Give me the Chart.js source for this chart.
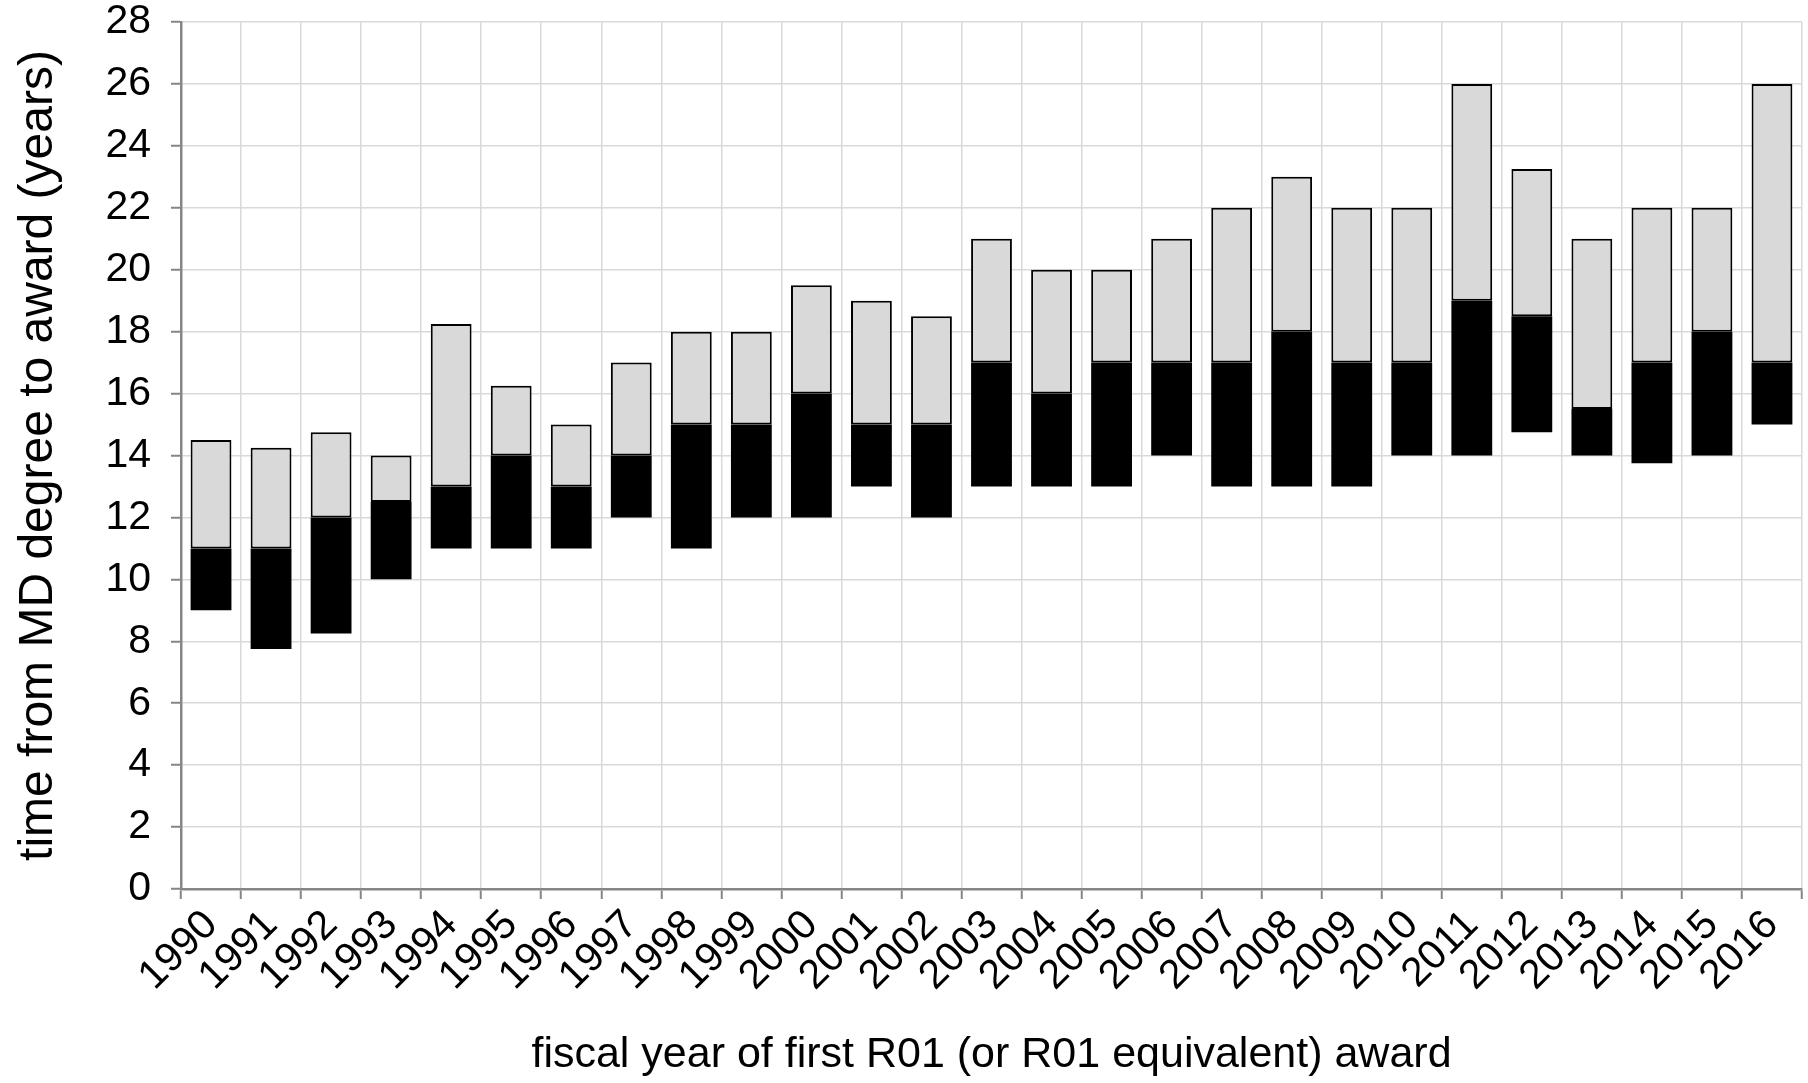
<!DOCTYPE html>
<html>
<head>
<meta charset="utf-8">
<script src="https://cdn.jsdelivr.net/npm/chart.js@4/dist/chart.umd.min.js"></script>
<style>
  html, body { margin: 0; padding: 0; background: #ffffff; }
  #wrap { width: 1808px; height: 1083px; }
</style>
</head>
<body>
<div id="wrap"><canvas id="c" width="1808" height="1083"></canvas></div>
<script>
// ---- data ----
const years = ['1990','1991','1992','1993','1994','1995','1996','1997','1998','1999',
               '2000','2001','2002','2003','2004','2005','2006','2007','2008','2009',
               '2010','2011','2012','2013','2014','2015','2016'];
// lower end of black bar
const lowerValues  = [9, 7.75, 8.25, 10, 11, 11, 11, 12, 11, 12,
                      12, 13, 12, 13, 13, 13, 14, 13, 13, 13,
                      14, 14, 14.75, 14, 13.75, 14, 15];
// boundary between black and grey bars
const middleValues = [11, 11, 12, 12.5, 13, 14, 13, 14, 15, 15,
                      16, 15, 15, 17, 16, 17, 17, 17, 18, 17,
                      17, 19, 18.5, 15.5, 17, 18, 17];
// upper end of grey bar
const upperValues  = [14.5, 14.25, 14.75, 14, 18.25, 16.25, 15, 17, 18, 18,
                      19.5, 19, 18.5, 21, 20, 20, 21, 22, 23, 22,
                      22, 26, 23.25, 21, 22, 22, 26];
const yMin = 0, yMax = 28, yStep = 2;
const yTitle = 'time from MD degree to award (years)';
const xTitle = 'fiscal year of first R01 (or R01 equivalent) award';

// ---- build library structures ----
const greyData  = years.map((_, i) => [middleValues[i], upperValues[i]]);
const blackData = years.map((_, i) => [lowerValues[i], middleValues[i]]);

const FONT = 'Liberation Sans, Arial, Helvetica, sans-serif';
const AXIS = '#868686';
const GRID = '#d9d9d9';

new Chart(document.getElementById('c'), {
  type: 'bar',
  data: {
    labels: years,
    datasets: [
      {
        label: 'upper',
        data: greyData,
        backgroundColor: '#d9d9d9',
        borderColor: '#000000',
        borderWidth: 2,
        borderSkipped: false,
        grouped: false,
        categoryPercentage: 1,
        barPercentage: 0.68,
        order: 2
      },
      {
        label: 'lower',
        data: blackData,
        backgroundColor: '#000000',
        borderWidth: 0,
        grouped: false,
        categoryPercentage: 1,
        barPercentage: 0.68,
        order: 1
      }
    ]
  },
  options: {
    responsive: false,
    animation: false,
    devicePixelRatio: 1,
    layout: { padding: { top: 22, right: 6, left: 0, bottom: 0 } },
    plugins: {
      legend: { display: false },
      tooltip: { enabled: false }
    },
    scales: {
      x: {
        offset: true,
        grid: {
          offset: true,
          color: GRID,
          lineWidth: 1.5,
          tickColor: AXIS,
          tickWidth: 2,
          tickLength: 10,
          drawTicks: true
        },
        border: { color: AXIS, width: 2.5 },
        ticks: {
          color: '#000',
          font: { family: FONT, size: 41 },
          maxRotation: 45,
          minRotation: 45,
          padding: 2,
          autoSkip: false
        },
        title: {
          display: true,
          text: xTitle,
          color: '#000',
          font: { family: FONT, size: 43 },
          padding: { top: 0, bottom: 2 }
        },
        afterFit: (s) => { s.height = 1083 - 889; s.paddingLeft = 0; s.paddingRight = 0; }
      },
      y: {
        min: yMin,
        max: yMax,
        grid: {
          color: GRID,
          lineWidth: 1.5,
          tickColor: AXIS,
          tickWidth: 2,
          tickLength: 10
        },
        border: { color: AXIS, width: 2.5 },
        ticks: {
          stepSize: yStep,
          color: '#000',
          font: { family: FONT, size: 41 },
          padding: 20
        },
        title: {
          display: true,
          text: yTitle,
          color: '#000',
          font: { family: FONT, size: 48 },
          padding: { top: 10, bottom: 0 }
        },
        afterFit: (s) => { s.width = 181; s.paddingTop = 0; s.paddingBottom = 0; }
      }
    }
  }
});
</script>
</body>
</html>
